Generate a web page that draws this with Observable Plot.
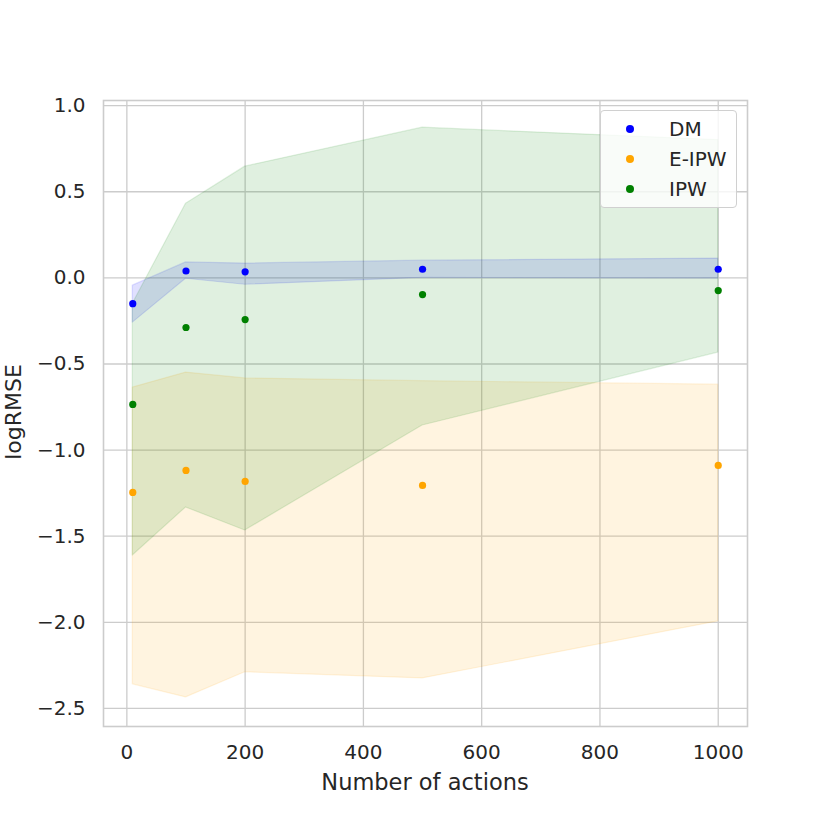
<!DOCTYPE html>
<html>
<head>
<meta charset="utf-8">
<script src="https://cdn.jsdelivr.net/npm/d3@7"></script>
<script src="https://cdn.jsdelivr.net/npm/@observablehq/plot@0.6"></script>
<style>
  body { margin: 0; background: #fff; font-family: "DejaVu Sans", sans-serif; }
  #wrap { position: relative; width: 830px; height: 830px; }
  #legend { position: absolute; left: 600px; top: 110px; width: 137px; height: 98px;
    background: rgba(255,255,255,0.8); border: 1.3px solid #d0d0d0; border-radius: 4px;
    box-sizing: border-box; font-size: 20px; color: #262626; }
  .row { position: absolute; left: 0; height: 20px; line-height: 20px; }
  .dot { position: absolute; left: 25px; top: 6px; width: 8px; height: 8px; border-radius: 50%; }
  .lab { position: absolute; left: 68px; top: 0; white-space: nowrap; }
</style>
</head>
<body>
<div id="wrap"></div>
<script>
const actions = [10, 100, 200, 500, 1000];
const seriesNames = ["DM", "E-IPW", "IPW"];
const seriesColors = ["blue", "orange", "green"];
const dmMean = [-0.15, 0.04, 0.035, 0.05, 0.05];
const dmLow = [-0.26, -0.005, -0.04, 0.0, -0.004];
const dmHigh = [-0.045, 0.09, 0.083, 0.10, 0.112];
const eipwMean = [-1.246, -1.118, -1.182, -1.205, -1.089];
const eipwLow = [-2.36, -2.436, -2.29, -2.326, -1.995];
const eipwHigh = [-0.637, -0.55, -0.584, -0.60, -0.62];
const ipwMean = [-0.735, -0.288, -0.242, -0.097, -0.074];
const ipwLow = [-1.612, -1.333, -1.467, -0.857, -0.434];
const ipwHigh = [-0.15, 0.431, 0.646, 0.872, 0.80];
const xTicks = [0, 200, 400, 600, 800, 1000];
const yTicks = [-2.5, -2.0, -1.5, -1.0, -0.5, 0.0, 0.5, 1.0];

const means = [dmMean, eipwMean, ipwMean];
const lows = [dmLow, eipwLow, ipwLow];
const highs = [dmHigh, eipwHigh, ipwHigh];
const rows = [];
seriesNames.forEach((s, i) => actions.forEach((a, j) => rows.push({
  series: s, color: seriesColors[i], x: a, mean: means[i][j], lo: lows[i][j], hi: highs[i][j]
})));

const fmt = d => (d < 0 ? "\u2212" : "") + Math.abs(d).toFixed(1);

const bandMarks = [];
seriesNames.forEach((s, i) => {
  const data = rows.filter(r => r.series === s);
  bandMarks.push(Plot.areaY(data, {x: "x", y1: "lo", y2: "hi", fill: seriesColors[i], fillOpacity: 0.12,
    stroke: seriesColors[i], strokeOpacity: 0.12, strokeWidth: 1.2}));
});

const chart = Plot.plot({
  width: 830, height: 830,
  marginLeft: 103, marginRight: 83, marginTop: 100, marginBottom: 104,
  style: {fontFamily: "DejaVu Sans, sans-serif", fontSize: "20px", color: "#262626", background: "white"},
  x: {domain: [-39.5, 1049.5], label: null},
  y: {domain: [-2.605, 1.03], label: null},
  marks: [
    Plot.gridX(xTicks, {stroke: "#cccccc", strokeOpacity: 1, strokeWidth: 1.3}),
    Plot.gridY(yTicks, {stroke: "#cccccc", strokeOpacity: 1, strokeWidth: 1.3}),
    ...bandMarks,
    Plot.dot(rows, {x: "x", y: "mean", fill: "color", r: 3.6, stroke: null}),
    Plot.frame({stroke: "#cccccc", strokeWidth: 1.6}),
    Plot.axisX({ticks: xTicks, tickSize: 0, tickPadding: 18, tickFormat: d => String(d), label: null, fontSize: 20}),
    Plot.axisY({ticks: yTicks, tickSize: 0, tickPadding: 18, tickFormat: fmt, label: null, fontSize: 20})
  ]
});

const wrap = document.getElementById("wrap");
wrap.appendChild(chart);

// axis titles
const svg = d3.select(chart);
svg.append("text").attr("x", 425).attr("y", 790).attr("text-anchor", "middle")
  .attr("font-size", 22.5).attr("fill", "#262626").text("Number of actions");
svg.append("text").attr("transform", "translate(21,412) rotate(-90)").attr("text-anchor", "middle")
  .attr("font-size", 22).attr("fill", "#262626").text("logRMSE");

// legend
const leg = document.createElement("div");
leg.id = "legend";
seriesNames.forEach((s, i) => {
  const r = document.createElement("div");
  r.className = "row";
  r.style.top = (8 + i * 30) + "px";
  r.innerHTML = `<span class="dot" style="background:${seriesColors[i]}"></span><span class="lab">${s}</span>`;
  leg.appendChild(r);
});
wrap.appendChild(leg);
</script>
</body>
</html>
